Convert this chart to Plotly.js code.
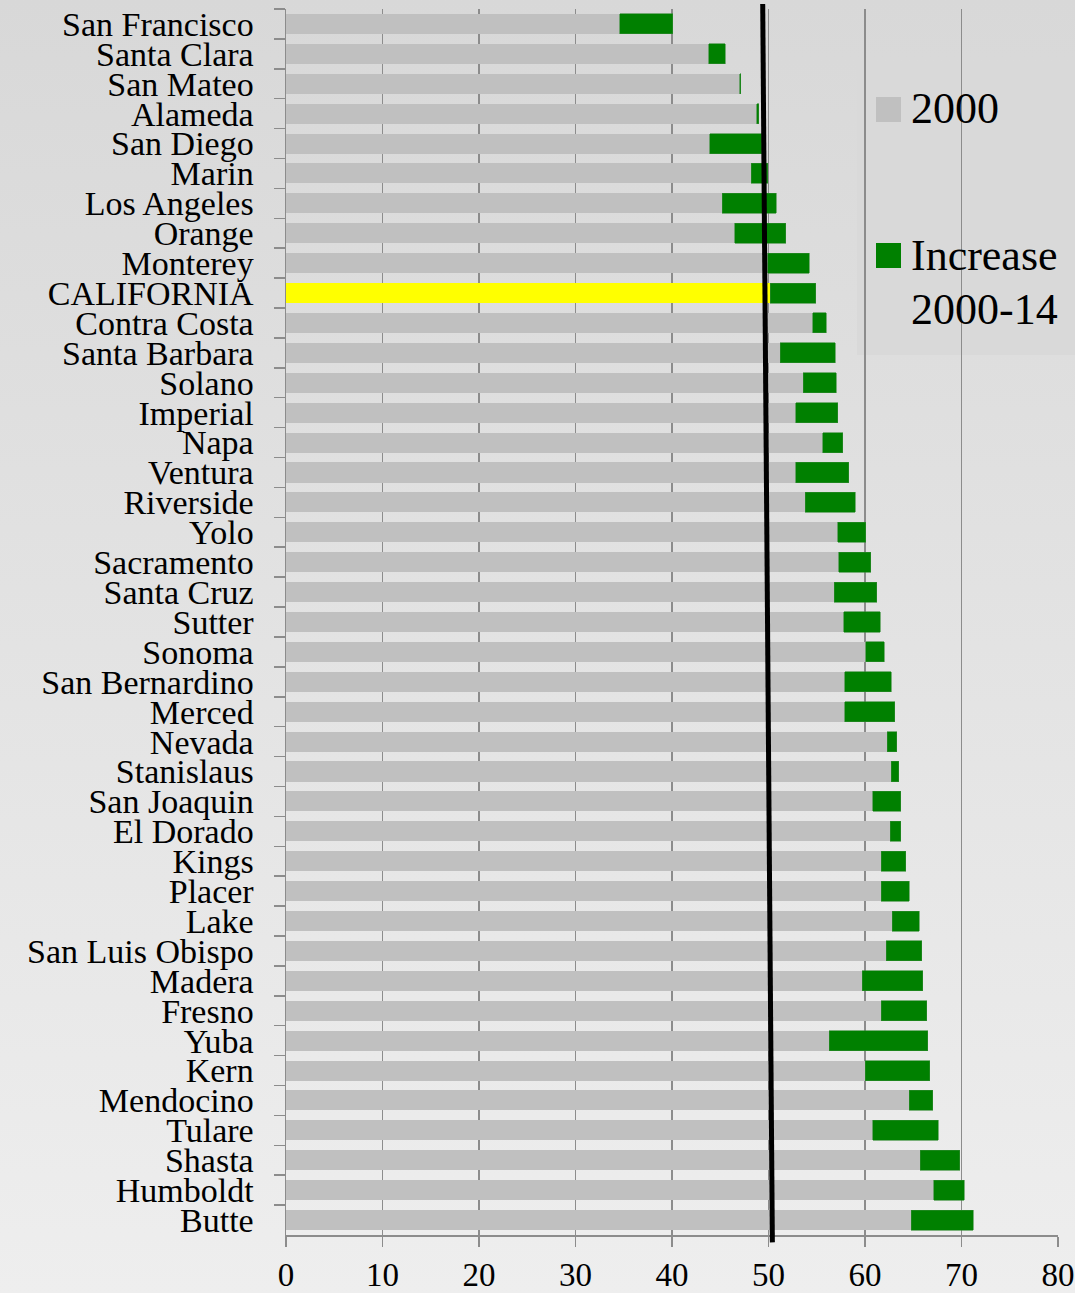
<!DOCTYPE html>
<html>
<head>
<meta charset="utf-8">
<script src="https://cdn.plot.ly/plotly-3.0.1.min.js"></script>
<style>
  html, body { margin: 0; padding: 0; }
  #chart { width: 1075px; height: 1293px; background: linear-gradient(to bottom, #d8d8d8 0%, #e3e3e3 50%, #eeeeee 100%); }
</style>
</head>
<body>
<div id="chart"></div>
<script>
const counties = ["San Francisco","Santa Clara","San Mateo","Alameda","San Diego","Marin","Los Angeles","Orange","Monterey","CALIFORNIA","Contra Costa","Santa Barbara","Solano","Imperial","Napa","Ventura","Riverside","Yolo","Sacramento","Santa Cruz","Sutter","Sonoma","San Bernardino","Merced","Nevada","Stanislaus","San Joaquin","El Dorado","Kings","Placer","Lake","San Luis Obispo","Madera","Fresno","Yuba","Kern","Mendocino","Tulare","Shasta","Humboldt","Butte"];
const value2000 = [34.6,43.8,47.0,48.8,43.9,48.2,45.2,46.5,49.9,50.2,54.6,51.2,53.6,52.8,55.6,52.8,53.8,57.2,57.3,56.8,57.8,60.1,57.9,57.9,62.3,62.7,60.8,62.6,61.7,61.7,62.8,62.2,59.7,61.7,56.3,60.0,64.6,60.8,65.7,67.1,64.8];
const increase2000to14 = [5.5,1.7,0.1,0.2,5.4,1.7,5.6,5.3,4.3,4.7,1.4,5.7,3.4,4.4,2.1,5.5,5.2,2.9,3.3,4.4,3.8,1.9,4.8,5.2,1.0,0.8,2.9,1.1,2.5,2.9,2.8,3.7,6.3,4.7,10.2,6.7,2.4,6.8,4.1,3.2,6.4];
const xTicks = [0,10,20,30,40,50,60,70,80];
const stateLineX = [49.4, 50.4]; // top, bottom
const legendNames = ["2000", "Increase 2000-14"];

const GRAY = "#c0c0c0", GREEN = "#008000", YELLOW = "#ffff00";
const FONT = "Liberation Serif";

const baseColors = counties.map(c => c === "CALIFORNIA" ? YELLOW : GRAY);

const traces = [
  { type: "bar", orientation: "h", y: counties, x: value2000, name: legendNames[0],
    marker: { color: baseColors, line: { width: 0 } }, showlegend: false, hoverinfo: "x+y" },
  { type: "bar", orientation: "h", y: counties, x: increase2000to14, name: legendNames[1],
    marker: { color: GREEN, line: { color: "#2e8b2e", width: 0.6 } }, showlegend: false, hoverinfo: "x+y" }
];

const layout = {
  width: 1075, height: 1293,
  margin: { l: 286, r: 17, t: 9, b: 58 },
  paper_bgcolor: "rgba(0,0,0,0)", plot_bgcolor: "rgba(0,0,0,0)",
  barmode: "stack", bargap: 0.33,
  font: { family: FONT, color: "#000" },
  showlegend: false,
  xaxis: {
    range: [0, 80], tickmode: "array", tickvals: xTicks, ticktext: xTicks.map(String),
    showgrid: true, gridcolor: "#8c8c8c", gridwidth: 1.5, zeroline: false,
    showline: true, linecolor: "#8c8c8c", linewidth: 1.5,
    ticks: "outside", ticklen: 10, tickcolor: "#8c8c8c", tickwidth: 1.5,
    tickfont: { size: 33, family: FONT, color: "#000" }, fixedrange: true
  },
  yaxis: {
    type: "category", autorange: "reversed", showgrid: false, zeroline: false,
    tickmode: "linear", tick0: 0, dtick: 1,
    showline: true, linecolor: "#8c8c8c", linewidth: 1.5,
    ticks: "outside", ticklen: 11, tickcolor: "#8c8c8c", tickwidth: 1.5, tickson: "boundaries",
    ticklabelstandoff: 24,
    tickfont: { size: 34, family: FONT, color: "#000" }, fixedrange: true
  },
  shapes: [
    { type: "line", xref: "x", yref: "paper", x0: stateLineX[0], y0: 1.004, x1: stateLineX[1], y1: -0.006,
      line: { color: "#000", width: 5 } },
    { type: "rect", xref: "paper", yref: "paper", x0: (857-286)/772, x1: (1075-286)/772,
      y0: (1235-355)/1226, y1: (1235-63)/1226, fillcolor: "#d9d9d9", line: { width: 0 }, layer: "below" },
    { type: "rect", xref: "paper", yref: "paper", x0: (876-286)/772, x1: (901-286)/772,
      y0: (1235-122)/1226, y1: (1235-97)/1226, fillcolor: GRAY, line: { width: 0 } },
    { type: "rect", xref: "paper", yref: "paper", x0: (876-286)/772, x1: (901-286)/772,
      y0: (1235-268)/1226, y1: (1235-243)/1226, fillcolor: GREEN, line: { width: 0 } }
  ],
  annotations: [
    { xref: "paper", yref: "paper", x: (909-286)/772, y: (1235-108)/1226, xanchor: "left", yanchor: "middle",
      text: legendNames[0], showarrow: false, font: { size: 44, family: FONT, color: "#000" } },
    { xref: "paper", yref: "paper", x: (909-286)/772, y: (1235-255)/1226, xanchor: "left", yanchor: "middle",
      text: "Increase", showarrow: false, font: { size: 44, family: FONT, color: "#000" } },
    { xref: "paper", yref: "paper", x: (909-286)/772, y: (1235-309)/1226, xanchor: "left", yanchor: "middle",
      text: "2000-14", showarrow: false, font: { size: 44, family: FONT, color: "#000" } }
  ]
};

Plotly.newPlot("chart", traces, layout, { displayModeBar: false, staticPlot: true });
</script>
</body>
</html>
